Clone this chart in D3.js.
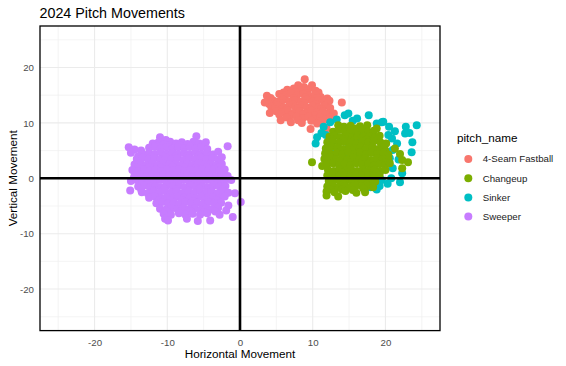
<!DOCTYPE html>
<html>
<head>
<meta charset="utf-8">
<script src="https://cdn.jsdelivr.net/npm/d3@7"></script>
<style>
  html, body { margin: 0; padding: 0; background: #fff; }
  svg { display: block; font-family: "Liberation Sans", Arial, sans-serif; }
</style>
</head>
<body>
<svg id="chart" width="566" height="366"></svg>
<script>
// ---------------- data ----------------
const categories = ["4-Seam Fastball", "Changeup", "Sinker", "Sweeper"];
const xTicks = [-20, -10, 0, 10, 20];
const yTicks = [-20, -10, 0, 10, 20];
const minorTicks = [-25, -15, -5, 5, 15, 25];

const fastball = [
  [8.9,17.9],[8.0,16.8],[9.9,16.8],[8.8,16.5],[6.5,16.0],[7.4,16.2],[8.5,15.9],[9.4,16.1],[10.4,15.8],
  [6.0,15.5],[7.6,15.6],[9.2,15.4],[10.8,15.5],
  [3.7,14.9],[5.4,15.2],[6.2,14.9],[7.0,15.3],[7.8,14.9],[8.7,15.2],[9.5,14.9],[10.3,15.1],[11.1,14.7],
  [4.2,14.5],[5.8,14.6],[7.4,14.4],[9.0,14.6],[10.6,14.5],[12.0,14.4],
  [3.4,13.7],[4.5,14.1],[5.2,13.8],[6.0,14.2],[6.8,13.9],[7.6,14.1],[8.4,13.8],[9.2,14.2],[10.0,13.9],[10.8,14.1],[11.6,13.8],[12.3,14.0],[14.0,13.7],
  [4.0,13.4],[5.6,13.5],[7.2,13.4],[8.8,13.6],[10.4,13.4],[12.0,13.5],
  [4.3,12.9],[5.2,13.1],[6.0,12.8],[6.8,13.2],[7.6,12.9],[8.4,13.1],[9.2,12.8],[10.0,13.1],[10.8,12.8],[11.6,13.1],[12.4,12.7],
  [4.8,12.5],[6.4,12.4],[8.0,12.6],[9.6,12.4],[11.2,12.5],
  [4.1,11.8],[5.0,12.1],[5.8,11.9],[6.6,12.2],[7.4,11.8],[8.2,12.1],[9.0,11.8],[9.8,12.2],[10.6,11.9],[11.4,12.1],[12.2,11.8],[12.9,11.7],
  [5.4,11.5],[7.0,11.4],[8.6,11.5],[10.2,11.4],[11.8,11.5],
  [5.6,10.5],[6.4,11.0],[7.0,10.1],[7.8,11.1],[8.6,10.8],[9.4,11.1],[10.2,10.7],[11.0,11.0],[11.8,10.6],[12.4,11.0],
  [8.0,10.5],[9.8,10.4],[11.2,10.3],
  [9.7,8.9],[11.9,9.0],[8.5,10.0],[10.6,9.9]
];

const sinker = [
  [12.4,10.1],[14.4,11.4],[14.9,11.7],[16.1,10.8],[17.7,11.4],[18.8,9.9],[19.5,10.1],[19.7,10.2],[15.5,10.4],[13.3,10.6],
  [11.5,9.3],[10.6,7.4],[10.4,6.3],[11.2,8.2],[20.5,9.3],[21.3,8.5],[22.7,8.1],[23.3,8.2],[24.3,9.6],[22.8,9.3],
  [21.6,6.3],[21.0,5.1],[23.7,6.5],[23.6,4.7],[21.8,3.4],[22.3,0.9],[21.0,1.8],[22.0,-0.7],[20.8,0.0],[20.3,-1.0],
  [19.5,-0.3],[18.8,-2.0],[17.9,-1.6],[17.6,-1.3],[19.2,-1.4],[20.9,7.2],[20.4,7.8],[11.8,7.8],[20.6,3.6],
  [13.0,5.0],[15.0,4.0],[17.0,3.0],[19.0,5.0],[16.0,7.0],[14.0,2.0],[18.0,1.0],[15.0,6.0],[17.0,8.0],[13.0,8.0]
];

const changeup = [
  [13.5,9.6],[14.3,9.3],[15.2,9.5],[16.5,9.4],[17.5,9.6],[18.8,9.0],
  [14.0,9.0],[15.8,9.0],[17.2,8.9],
  [12.8,8.4],[13.6,8.7],[14.4,8.5],[15.2,8.6],[16.0,8.3],[16.8,8.7],[17.6,8.4],[18.4,8.6],
  [12.3,7.5],[13.0,7.7],[13.8,7.4],[14.6,7.6],[15.4,7.4],[16.2,7.7],[17.0,7.5],[17.8,7.6],[18.6,7.4],[19.2,7.7],
  [12.6,7.0],[14.2,7.1],[15.8,6.9],[17.4,7.0],[19.0,7.1],
  [12.0,6.5],[12.8,6.7],[13.6,6.4],[14.4,6.6],[15.2,6.5],[16.0,6.3],[16.8,6.6],[17.6,6.4],[18.4,6.7],[19.3,6.5],[20.1,6.3],
  [11.8,5.4],[12.6,5.7],[13.4,5.5],[14.2,5.3],[15.0,5.6],[15.8,5.4],[16.6,5.7],[17.4,5.4],[18.2,5.6],[19.0,5.3],[19.8,5.6],[21.3,5.4],
  [12.2,5.0],[13.8,4.9],[15.4,5.1],[17.0,4.9],[18.6,5.0],[20.0,5.0],
  [11.7,4.5],[12.5,4.3],[13.3,4.6],[14.1,4.4],[14.9,4.7],[15.7,4.4],[16.5,4.6],[17.3,4.3],[18.1,4.6],[18.9,4.4],[19.7,4.6],[20.4,4.3],[22.0,4.4],
  [11.6,3.5],[12.4,3.7],[13.2,3.4],[14.0,3.6],[14.8,3.4],[15.6,3.7],[16.4,3.5],[17.2,3.6],[18.0,3.3],[18.8,3.6],[19.6,3.4],[20.4,3.6],[22.3,3.3],
  [12.0,3.0],[13.6,3.1],[15.2,2.9],[16.8,3.0],[18.4,3.1],[20.0,2.9],
  [9.9,2.9],[11.3,2.2],[12.0,2.5],[12.8,2.7],[13.6,2.4],[14.4,2.6],[15.2,2.4],[16.0,2.7],[16.8,2.5],[17.6,2.6],[18.4,2.3],[19.2,2.6],[20.0,2.4],[20.6,2.7],[22.3,1.8],[23.1,2.9],
  [12.1,1.5],[12.9,1.3],[13.7,1.6],[14.5,1.4],[15.3,1.6],[16.1,1.3],[16.9,1.6],[17.7,1.4],[18.5,1.6],[19.3,1.3],[20.0,1.5],
  [12.4,1.0],[14.0,1.0],[15.6,0.9],[17.2,1.1],[18.8,1.0],
  [12.0,0.5],[12.8,0.7],[13.6,0.4],[14.4,0.6],[15.2,0.4],[16.0,0.7],[16.8,0.5],[17.6,0.6],[18.4,0.3],[19.2,0.6],
  [12.2,-0.5],[13.0,-0.3],[13.8,-0.6],[14.6,-0.4],[15.4,-0.6],[16.2,-0.3],[17.0,-0.5],[17.8,-0.4],[18.6,-0.6],
  [12.6,-1.0],[14.2,-1.0],[15.8,-0.9],[17.4,-1.1],
  [12.0,-1.5],[12.8,-1.3],[13.6,-1.6],[14.4,-1.4],[15.2,-1.6],[16.0,-1.3],[16.8,-1.5],[17.6,-1.4],[18.3,-1.6],
  [12.4,-2.0],[14.0,-2.0],[15.5,-2.1],[17.0,-1.9],
  [11.9,-2.4],[13.0,-2.5],[14.5,-2.3],[16.0,-2.6],[17.2,-2.5],
  [11.9,-3.1],[13.5,-3.3]
];

const sweeper = [
  [-11.0,7.4],[-6.0,7.6],[-10.2,6.9],
  [-12.0,6.3],[-11.2,6.5],[-10.4,6.2],[-9.6,6.6],[-8.8,6.3],[-8.0,6.5],[-7.2,6.2],[-6.4,6.6],[-5.6,6.3],[-4.7,6.5],
  [-11.6,6.0],[-9.9,5.9],[-8.3,6.0],[-6.7,5.9],[-5.1,6.0],
  [-15.3,5.6],[-14.5,5.2],[-13.6,5.0],[-12.5,5.5],[-11.7,5.7],[-10.9,5.4],[-10.1,5.6],[-9.3,5.3],[-8.5,5.6],[-7.7,5.4],[-6.9,5.7],[-6.1,5.4],[-5.3,5.6],[-4.5,5.3],[-1.7,5.8],
  [-15.0,4.6],[-13.3,4.3],[-12.5,4.6],[-11.7,4.4],[-10.9,4.7],[-10.1,4.4],[-9.3,4.6],[-8.5,4.3],[-7.7,4.6],[-6.9,4.4],[-6.1,4.7],[-5.3,4.4],[-4.5,4.6],[-3.7,4.3],[-3.0,4.8],
  [-14.0,4.0],[-12.2,3.9],[-10.5,4.0],[-8.9,3.9],[-7.3,4.0],[-5.7,4.1],[-4.1,3.9],
  [-14.2,3.5],[-13.4,3.7],[-12.6,3.4],[-11.8,3.6],[-11.0,3.4],[-10.2,3.7],[-9.4,3.5],[-8.6,3.6],[-7.8,3.3],[-7.0,3.6],[-6.2,3.4],[-5.4,3.7],[-4.6,3.5],[-3.8,3.6],[-3.0,3.4],[-2.5,3.8],
  [-14.5,2.5],[-13.7,2.7],[-12.9,2.4],[-12.1,2.6],[-11.3,2.4],[-10.5,2.7],[-9.7,2.5],[-8.9,2.6],[-8.1,2.3],[-7.3,2.6],[-6.5,2.4],[-5.7,2.7],[-4.9,2.5],[-4.1,2.6],[-3.3,2.3],[-2.5,2.6],
  [-14.1,2.0],[-12.5,2.0],[-10.9,1.9],[-9.3,2.1],[-7.7,2.0],[-6.1,1.9],[-4.5,2.0],[-2.9,2.0],
  [-14.8,1.5],[-14.0,1.3],[-13.2,1.6],[-12.4,1.4],[-11.6,1.6],[-10.8,1.3],[-10.0,1.6],[-9.2,1.4],[-8.4,1.6],[-7.6,1.3],[-6.8,1.5],[-6.0,1.4],[-5.2,1.6],[-4.4,1.3],[-3.6,1.6],[-2.8,1.4],[-2.1,1.6],
  [-14.5,0.5],[-13.7,0.7],[-12.9,0.4],[-12.1,0.6],[-11.3,0.4],[-10.5,0.7],[-9.7,0.5],[-8.9,0.6],[-8.1,0.3],[-7.3,0.6],[-6.5,0.4],[-5.7,0.7],[-4.9,0.5],[-4.1,0.6],[-3.3,0.3],[-2.5,0.6],[-1.7,0.4],
  [-14.6,0.0],[-13.0,0.1],[-11.4,0.0],[-9.8,-0.1],[-8.2,0.0],[-6.6,0.1],[-5.0,0.0],[-3.4,-0.1],[-1.9,0.0],
  [-15.0,-0.5],[-14.2,-0.3],[-13.4,-0.6],[-12.6,-0.4],[-11.8,-0.6],[-11.0,-0.3],[-10.2,-0.5],[-9.4,-0.4],[-8.6,-0.6],[-7.8,-0.3],[-7.0,-0.5],[-6.2,-0.4],[-5.4,-0.6],[-4.6,-0.3],[-3.8,-0.5],[-3.0,-0.4],[-2.2,-0.6],[-1.2,-0.3],
  [-14.0,-1.5],[-13.2,-1.3],[-12.4,-1.6],[-11.6,-1.4],[-10.8,-1.6],[-10.0,-1.3],[-9.2,-1.5],[-8.4,-1.4],[-7.6,-1.6],[-6.8,-1.3],[-6.0,-1.5],[-5.2,-1.4],[-4.4,-1.6],[-3.6,-1.3],[-2.8,-1.5],[-2.0,-1.4],
  [-13.6,-2.0],[-12.0,-2.1],[-10.4,-1.9],[-8.8,-2.0],[-7.2,-2.1],[-5.6,-1.9],[-4.0,-2.0],[-2.4,-2.0],
  [-15.1,-2.2],[-13.5,-2.5],[-12.7,-2.7],[-11.9,-2.4],[-11.1,-2.6],[-10.3,-2.3],[-9.5,-2.6],[-8.7,-2.4],[-7.9,-2.7],[-7.1,-2.4],[-6.3,-2.6],[-5.5,-2.3],[-4.7,-2.6],[-3.9,-2.4],[-3.1,-2.7],[-2.3,-2.4],[-1.6,-2.6],[-0.7,-2.7],
  [-12.5,-3.5],[-11.7,-3.3],[-10.9,-3.6],[-10.1,-3.4],[-9.3,-3.6],[-8.5,-3.3],[-7.7,-3.5],[-6.9,-3.4],[-6.1,-3.6],[-5.3,-3.3],[-4.5,-3.5],[-3.7,-3.4],[-2.9,-3.6],[-2.1,-3.3],
  [-11.2,-4.0],[-9.6,-4.0],[-8.0,-3.9],[-6.4,-4.1],[-4.8,-4.0],[-3.2,-3.9],
  [-11.5,-4.5],[-10.7,-4.3],[-9.9,-4.6],[-9.1,-4.4],[-8.3,-4.6],[-7.5,-4.3],[-6.7,-4.5],[-5.9,-4.4],[-5.1,-4.6],[-4.3,-4.3],[-3.5,-4.5],[-2.6,-4.4],[0.1,-4.3],
  [-11.0,-5.5],[-10.2,-5.7],[-9.4,-5.4],[-8.6,-5.6],[-7.8,-5.3],[-7.0,-5.6],[-6.2,-5.4],[-5.4,-5.7],[-4.6,-5.4],[-3.8,-5.6],[-3.0,-5.3],[-1.6,-4.9],[-1.9,-5.8],
  [-10.0,-6.0],[-8.2,-6.0],[-6.8,-5.9],[-5.0,-6.1],[-3.4,-6.0],
  [-10.5,-6.4],[-9.5,-6.6],[-8.4,-6.3],[-7.5,-6.6],[-6.5,-6.4],[-5.5,-6.6],[-4.5,-6.3],[-2.8,-6.6],
  [-10.3,-7.3],[-9.9,-7.6],[-7.3,-7.3],[-5.8,-7.7],[-4.1,-7.6],[-1.0,-7.0]
];

// draw order follows the picture (changeup over sinker)
const seriesOrder = ["4-Seam Fastball", "Sinker", "Changeup", "Sweeper"];
const seriesData = {"4-Seam Fastball": fastball, "Changeup": changeup, "Sinker": sinker, "Sweeper": sweeper};
const palette = ["#F8766D", "#7CAE00", "#00BFC4", "#C77CFF"];

// ---------------- chart ----------------
const svg = d3.select("#chart");
const panel = {left: 40, right: 440, top: 26, bottom: 330.6};
const x = d3.scaleLinear().domain([-27.5, 27.5]).range([panel.left, panel.right]);
const y = d3.scaleLinear().domain([-27.5, 27.5]).range([panel.bottom, panel.top]);
const color = d3.scaleOrdinal().domain(categories).range(palette);

svg.append("rect").attr("width", 566).attr("height", 366).attr("fill", "#fff");

// grid
const grid = svg.append("g");
grid.selectAll("line.vminor").data(minorTicks).join("line")
  .attr("x1", d => x(d)).attr("x2", d => x(d)).attr("y1", panel.top).attr("y2", panel.bottom)
  .attr("stroke", "#efefef").attr("stroke-width", 0.7);
grid.selectAll("line.hminor").data(minorTicks).join("line")
  .attr("y1", d => y(d)).attr("y2", d => y(d)).attr("x1", panel.left).attr("x2", panel.right)
  .attr("stroke", "#efefef").attr("stroke-width", 0.7);
grid.selectAll("line.vmajor").data(xTicks).join("line")
  .attr("x1", d => x(d)).attr("x2", d => x(d)).attr("y1", panel.top).attr("y2", panel.bottom)
  .attr("stroke", "#ebebeb").attr("stroke-width", 1.1);
grid.selectAll("line.hmajor").data(yTicks).join("line")
  .attr("y1", d => y(d)).attr("y2", d => y(d)).attr("x1", panel.left).attr("x2", panel.right)
  .attr("stroke", "#ebebeb").attr("stroke-width", 1.1);

// points
const pts = svg.append("g");
seriesOrder.forEach(name => {
  pts.append("g").selectAll("circle").data(seriesData[name]).join("circle")
    .attr("cx", d => x(d[0])).attr("cy", d => y(d[1])).attr("r", 4)
    .attr("fill", color(name));
});

// zero lines
svg.append("line").attr("x1", x(0)).attr("x2", x(0)).attr("y1", panel.top).attr("y2", panel.bottom)
  .attr("stroke", "#000").attr("stroke-width", 2.6);
svg.append("line").attr("y1", y(0)).attr("y2", y(0)).attr("x1", panel.left).attr("x2", panel.right)
  .attr("stroke", "#000").attr("stroke-width", 2.6);

// panel border
svg.append("rect").attr("x", panel.left).attr("y", panel.top)
  .attr("width", panel.right - panel.left).attr("height", panel.bottom - panel.top)
  .attr("fill", "none").attr("stroke", "#000").attr("stroke-width", 1.3);

// axes
const xAxis = svg.append("g").attr("transform", `translate(0,${panel.bottom})`)
  .call(d3.axisBottom(x).tickValues(xTicks).tickSize(0).tickPadding(8.5).tickFormat(d => String(d)));
const yAxis = svg.append("g").attr("transform", `translate(${panel.left},0)`)
  .call(d3.axisLeft(y).tickValues(yTicks).tickSize(0).tickPadding(6).tickFormat(d => String(d)));
[xAxis, yAxis].forEach(a => {
  a.select(".domain").remove();
  a.selectAll("text").attr("fill", "#4d4d4d").style("font-size", "9.7px")
    .style("font-family", '"Liberation Sans", Arial, sans-serif');
});

// titles
svg.append("text").attr("x", 39.5).attr("y", 17.5).text("2024 Pitch Movements")
  .style("font-size", "14.3px").attr("fill", "#000");
svg.append("text").attr("x", (panel.left + panel.right) / 2).attr("y", 358)
  .attr("text-anchor", "middle").text("Horizontal Movement")
  .style("font-size", "11.7px").attr("fill", "#000");
svg.append("text").attr("transform", `translate(16.5,${(panel.top + panel.bottom) / 2}) rotate(-90)`)
  .attr("text-anchor", "middle").text("Vertical Movement")
  .style("font-size", "11.7px").attr("fill", "#000");

// legend
const legend = svg.append("g");
legend.append("text").attr("x", 457).attr("y", 141.5).text("pitch_name")
  .style("font-size", "11.7px").attr("fill", "#000");
const items = legend.selectAll("g.item").data(categories).join("g")
  .attr("transform", (d, i) => `translate(0,${159 + i * 19.2})`);
items.append("circle").attr("cx", 468.3).attr("cy", 0).attr("r", 4).attr("fill", d => color(d));
items.append("text").attr("x", 482.7).attr("y", 0).attr("dy", "0.35em").text(d => d)
  .style("font-size", "9.7px").attr("fill", "#1a1a1a");
</script>
</body>
</html>
